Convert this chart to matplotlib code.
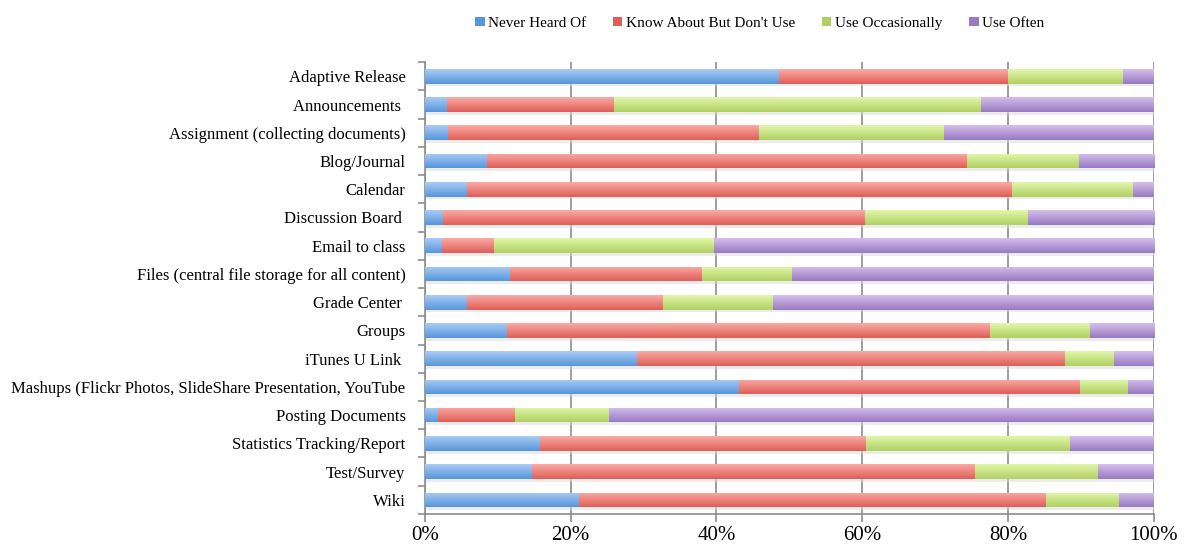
import numpy as np
import matplotlib
matplotlib.use("Agg")
import matplotlib.pyplot as plt
from matplotlib.colors import LinearSegmentedColormap
from matplotlib.ticker import FixedLocator, PercentFormatter

plt.rcParams['font.family'] = ['Liberation Serif', 'DejaVu Serif']

categories = [
    "Adaptive Release",
    "Announcements ",
    "Assignment (collecting documents)",
    "Blog/Journal",
    "Calendar",
    "Discussion Board ",
    "Email to class",
    "Files (central file storage for all content)",
    "Grade Center ",
    "Groups",
    "iTunes U Link ",
    "Mashups (Flickr Photos, SlideShare Presentation, YouTube",
    "Posting Documents",
    "Statistics Tracking/Report",
    "Test/Survey",
    "Wiki",
]

series_names = ["Never Heard Of", "Know About But Don't Use", "Use Occasionally", "Use Often"]

never_heard = [48.6, 3.0, 3.2, 8.5, 5.8, 2.5, 2.4, 11.7, 5.8, 11.2, 29.1, 43.1, 1.8, 15.8, 14.7, 21.2]
know_not_use = [31.4, 23.0, 42.7, 65.9, 74.7, 57.9, 7.1, 26.3, 26.9, 66.3, 58.7, 46.8, 10.5, 44.7, 60.8, 64.0]
occasionally = [15.8, 50.3, 25.3, 15.3, 16.7, 22.3, 30.1, 12.4, 15.1, 13.7, 6.8, 6.6, 13.0, 28.0, 16.9, 10.0]
often = [4.2, 23.7, 28.8, 10.3, 2.8, 17.3, 60.4, 49.6, 52.2, 8.8, 5.4, 3.5, 74.7, 11.5, 7.6, 4.8]

# top / bottom gradient colours per series
grad_colors = [
    ("#a9cbf6", "#5796da"),
    ("#fbaaa5", "#de5f57"),
    ("#e2f7ab", "#b0d062"),
    ("#d5bfec", "#987ac2"),
]

fig = plt.figure(figsize=(11.87, 5.5), dpi=100)
ax = fig.add_axes([0.358, 0.0655, 0.614, 0.8215])

y = np.arange(len(categories))
left = np.zeros(len(categories))
height = 0.52
for name, vals, (c_top, c_bot) in zip(series_names,
                                       [never_heard, know_not_use, occasionally, often],
                                       grad_colors):
    vals = np.array(vals)
    bars = ax.barh(y, vals, left=left, height=height, color=c_bot, label=name,
                   edgecolor="none", zorder=3)
    cmap = LinearSegmentedColormap.from_list(name, [c_top, c_bot])
    grad = np.linspace(0, 1, 64).reshape(-1, 1)
    for b in bars:
        x0, y0 = b.get_x(), b.get_y()
        w, h = b.get_width(), b.get_height()
        # soft shadow under the bar
        ax.fill_between([x0, x0 + w], y0 + h, y0 + h + 0.1, color="#dadada",
                        alpha=0.5, zorder=2, linewidth=0)
        im = ax.imshow(grad, cmap=cmap, aspect="auto", extent=(x0, x0 + w, y0 + h, y0),
                       zorder=4, interpolation="bilinear")
        im.set_clip_path(b)
    left = left + vals

ax.set_xlim(0, 100)
ax.set_ylim(len(categories) - 0.5, -0.5)

ax.xaxis.set_major_locator(FixedLocator([0, 20, 40, 60, 80, 100]))
ax.xaxis.set_major_formatter(PercentFormatter(decimals=0))
ax.grid(axis="x", color="#8c8c8c", linewidth=1.2, zorder=1)
ax.set_axisbelow(True)

ax.set_yticks(y)
ax.set_yticklabels(categories)
ax.yaxis.set_minor_locator(FixedLocator(np.arange(-0.5, len(categories), 1)))
ax.tick_params(axis="y", which="major", length=0, pad=14, labelsize=12)
ax.tick_params(axis="y", which="minor", length=5, color="#8c8c8c", width=1.2)
ax.tick_params(axis="x", length=6, color="#8c8c8c", width=1.2, labelsize=15, pad=3)

for s in ["top", "right"]:
    ax.spines[s].set_visible(False)
for s in ["left", "bottom"]:
    ax.spines[s].set_color("#8c8c8c")
    ax.spines[s].set_linewidth(1.2)

leg = fig.legend(loc="upper center", bbox_to_anchor=(0.64, 0.995), ncol=4, frameon=False,
                 fontsize=11, handlelength=0.6, handleheight=0.6, handletextpad=0.2,
                 columnspacing=1.8)

fig.savefig("out.png", dpi=100)
